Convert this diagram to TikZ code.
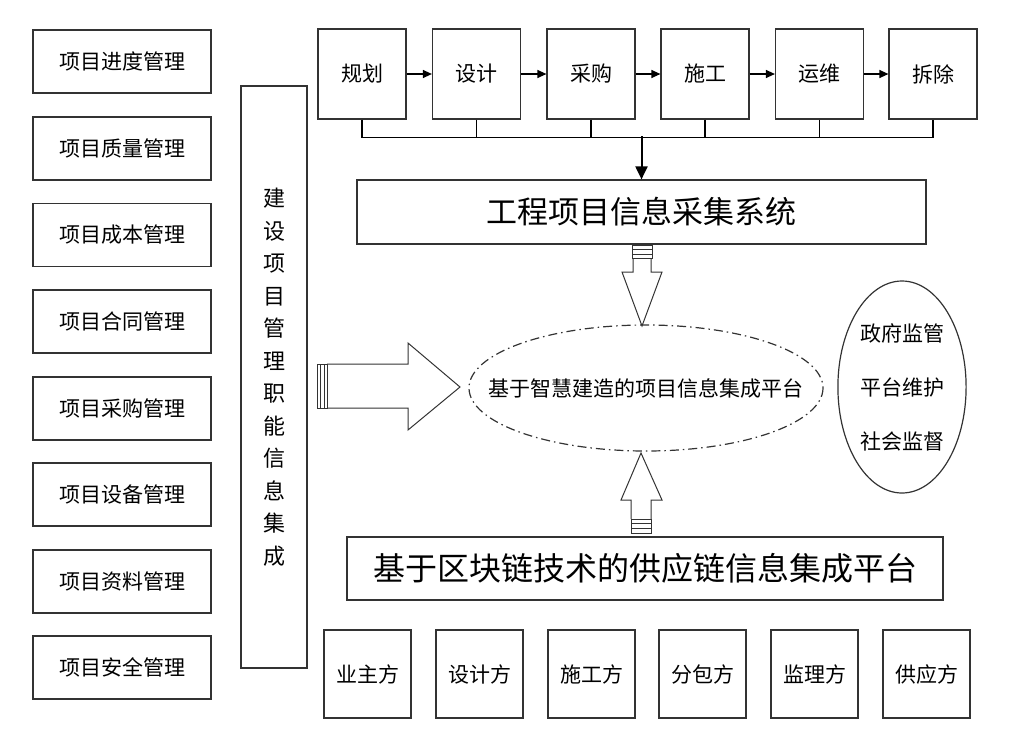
\documentclass[tikz,border=0pt]{standalone}
\usepackage{fontspec}
\setmainfont{Noto Sans CJK SC}
\usetikzlibrary{arrows.meta}
\usetikzlibrary{shapes.geometric}

\begin{document}
\begin{tikzpicture}[x=1pt,y=-1pt,
  mgmt/.style={draw=black!80,line width=1.2pt,minimum width=178pt,minimum height=63pt,font=\fontsize{21}{24}\selectfont},
  stage/.style={draw=black!80,line width=1.2pt,minimum width=88pt,minimum height=90pt,font=\fontsize{21}{24}\selectfont},
  party/.style={draw=black!80,line width=1.2pt,minimum width=87pt,minimum height=88pt,font=\fontsize{21}{24}\selectfont},
  wide/.style={draw=black!80,line width=1.2pt,minimum height=63pt,font=\fontsize{31}{36}\selectfont},
  hollow/.style={draw=black!80,line width=1pt,fill=white}]
\useasboundingbox (0,0) rectangle (1022,745);

% left column
\node (m1) at (122,61.5) [mgmt] {项目进度管理};
\node (m2) at (122,148.5) [mgmt] {项目质量管理};
\node (m3) at (122,235) [mgmt] {项目成本管理};
\node (m4) at (122,321.5) [mgmt] {项目合同管理};
\node (m5) at (122,408.5) [mgmt] {项目采购管理};
\node (m6) at (122,494.5) [mgmt] {项目设备管理};
\node (m7) at (122,581.5) [mgmt] {项目资料管理};
\node (m8) at (122,667.5) [mgmt] {项目安全管理};

\node (duty) at (274,377) [draw=black!80,line width=1.2pt,minimum width=66pt,minimum height=582pt,align=center,font=\fontsize{22}{32.5}\selectfont]
  {建\\设\\项\\目\\管\\理\\职\\能\\信\\息\\集\\成};

% life cycle
\node (p1) at (362,74) [stage] {规划};
\node (p2) at (476.5,74) [stage] {设计};
\node (p3) at (591,74) [stage] {采购};
\node (p4) at (705,74) [stage] {施工};
\node (p5) at (819.5,74) [stage] {运维};
\node (p6) at (933,74) [stage] {拆除};
\draw[line width=1.2pt,-{Triangle[length=9pt,width=8pt]}] (p1) -- (p2);
\draw[line width=1.2pt,-{Triangle[length=9pt,width=8pt]}] (p2) -- (p3);
\draw[line width=1.2pt,-{Triangle[length=9pt,width=8pt]}] (p3) -- (p4);
\draw[line width=1.2pt,-{Triangle[length=9pt,width=8pt]}] (p4) -- (p5);
\draw[line width=1.2pt,-{Triangle[length=9pt,width=8pt]}] (p5) -- (p6);
\draw[line width=1.2pt] (p1.south) -- ++(0,18) -| (p6.south);
\draw[line width=1.2pt] (p2.south) -- ++(0,18);
\draw[line width=1.2pt] (p3.south) -- ++(0,18);
\draw[line width=1.2pt] (p4.south) -- ++(0,18);
\draw[line width=1.2pt] (p5.south) -- ++(0,18);

\node (sys) at (641.5,212) [wide,minimum width=569pt,minimum height=64pt] {工程项目信息采集系统};
\coordinate (bus) at ([yshift=43pt]sys.north);
\draw[line width=2pt,-{Triangle[length=13pt,width=12pt]}] (bus) -- (sys.north);

% platform
\node (plat) at (646,388) [font=\fontsize{21}{24}\selectfont] {基于智慧建造的项目信息集成平台};
\draw[black!80,line width=1.2pt,dash pattern=on 9pt off 4pt on 1.5pt off 4pt] (plat.center) ellipse [x radius=177,y radius=63];

\node (gov) at (902,387) [ellipse,draw=black!80,line width=1.2pt,minimum width=116pt,minimum height=212pt,align=center,font=\fontsize{21}{54}\selectfont]
  {政府监管\\平台维护\\社会监督};

\node (chain) at (645,568.5) [wide,minimum width=596pt,font=\fontsize{32}{36}\selectfont] {基于区块链技术的供应链信息集成平台};

% parties
\node (s1) at (367.5,674) [party] {业主方};
\node (s2) at (479.5,674) [party] {设计方};
\node (s3) at (591.5,674) [party] {施工方};
\node (s4) at (702.5,674) [party] {分包方};
\node (s5) at (814.5,674) [party] {监理方};
\node (s6) at (926.5,674) [party] {供应方};

% hollow arrows
\draw[hollow] (633,258) -- (633,272) -- (622,272) -- (642,326) -- (662,272) -- (651,272) -- (651,258);
\draw[hollow] (632,245) rectangle (652,258);
\draw[line width=1pt,black!80] (632,249.5) -- (652,249.5) (632,254) -- (652,254);

\draw[hollow] (327,364) -- (408,364) -- (408,343) -- (460,387) -- (408,430) -- (408,408) -- (327,408);
\draw[hollow] (317,364) rectangle (327,408);
\draw[line width=1pt,black!80] (320.5,364) -- (320.5,408) (324,364) -- (324,408);

\draw[hollow] (631,519) -- (631,500) -- (621,500) -- (641,453) -- (662,500) -- (651,500) -- (651,519);
\draw[hollow] (631,519) rectangle (651,533);
\draw[line width=1pt,black!80] (631,523.5) -- (651,523.5) (631,528) -- (651,528);
\end{tikzpicture}
\end{document}
